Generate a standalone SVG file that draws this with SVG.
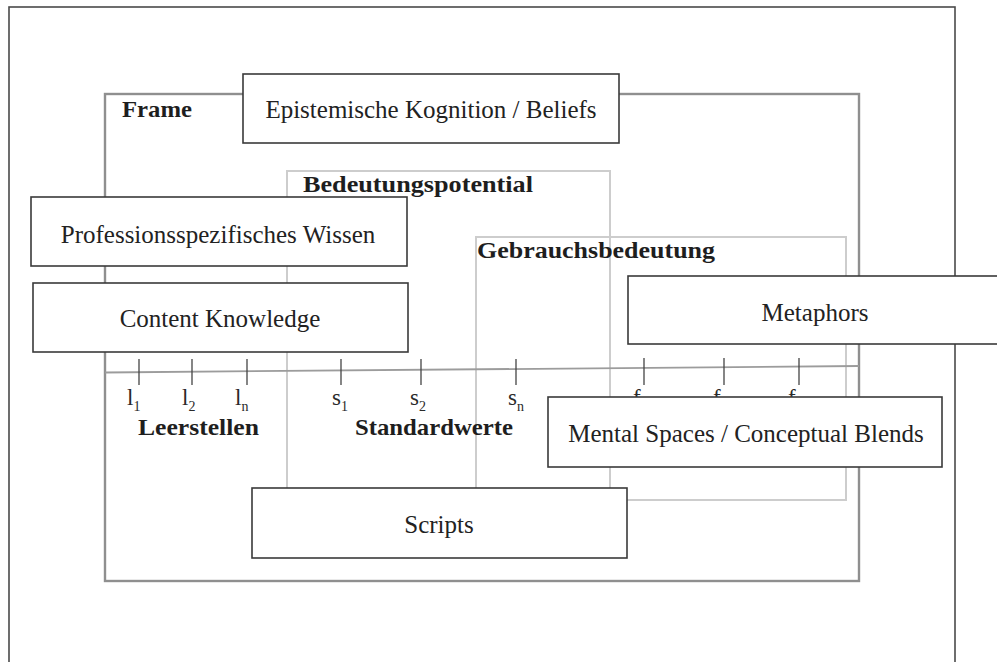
<svg xmlns="http://www.w3.org/2000/svg" width="997" height="662" viewBox="0 0 997 662">
  <style>
    .outer { fill: none; stroke: #4a4a4a; stroke-width: 1.6; }
    .frame { fill: none; stroke: #8f8f8f; stroke-width: 2.4; }
    .light { fill: none; stroke: #cdcdcd; stroke-width: 2; }
    .axis { fill: none; stroke: #9c9c9c; stroke-width: 1.8; }
    .tick { stroke: #444; stroke-width: 1.3; }
    .box { fill: #fff; stroke: #3a3a3a; stroke-width: 1.6; }
    .title { font-family: "Liberation Serif", "Times New Roman", serif; font-weight: bold; font-size: 24px; fill: #1e1e1e; }
    .var { font-family: "Liberation Serif", "Times New Roman", serif; font-size: 23px; fill: #2a2a2a; }
    .sub { font-size: 14px; }
    .lbl { font-family: "Liberation Serif", "Times New Roman", serif; font-size: 25px; fill: #222; text-anchor: middle; }
  </style>

  <!-- page border (open at the bottom) -->
  <rect class="outer" x="9" y="7" width="946" height="700"/>

  <!-- frame with its nested regions -->
  <g id="frame">
    <rect class="frame" x="105" y="94" width="754" height="487"/>
    <text class="title" x="122" y="117" textLength="70" lengthAdjust="spacingAndGlyphs">Frame</text>
  </g>
  <g id="bedeutungspotential">
    <rect class="light" x="287" y="171" width="323" height="329"/>
    <text class="title" x="303" y="192" textLength="230" lengthAdjust="spacingAndGlyphs">Bedeutungspotential</text>
  </g>
  <g id="gebrauchsbedeutung">
    <rect class="light" x="476" y="237" width="370" height="263"/>
    <text class="title" x="477" y="258" textLength="238" lengthAdjust="spacingAndGlyphs">Gebrauchsbedeutung</text>
  </g>

  <!-- slot axis with ticks -->
  <g id="connectors">
    <line class="axis" x1="105" y1="372.5" x2="859" y2="366"/>
    <line class="tick" x1="139" y1="359" x2="139" y2="385"/>
    <line class="tick" x1="192" y1="359" x2="192" y2="385"/>
    <line class="tick" x1="247" y1="359" x2="247" y2="385"/>
    <line class="tick" x1="341" y1="359" x2="341" y2="385"/>
    <line class="tick" x1="421" y1="359" x2="421" y2="385"/>
    <line class="tick" x1="516" y1="359" x2="516" y2="385"/>
    <line class="tick" x1="644" y1="358" x2="644" y2="385"/>
    <line class="tick" x1="724" y1="358" x2="724" y2="385"/>
    <line class="tick" x1="799" y1="358" x2="799" y2="385"/>
  </g>

  <g id="slots">
    <text class="var" x="127" y="405">l<tspan class="sub" dy="6">1</tspan></text>
    <text class="var" x="182" y="405">l<tspan class="sub" dy="6">2</tspan></text>
    <text class="var" x="235" y="405">l<tspan class="sub" dy="6">n</tspan></text>
    <text class="title" x="138" y="435" textLength="121" lengthAdjust="spacingAndGlyphs">Leerstellen</text>
  </g>
  <g id="defaults">
    <text class="var" x="332" y="405">s<tspan class="sub" dy="6">1</tspan></text>
    <text class="var" x="410" y="405">s<tspan class="sub" dy="6">2</tspan></text>
    <text class="var" x="508" y="405">s<tspan class="sub" dy="6">n</tspan></text>
    <text class="title" x="355" y="435" textLength="158" lengthAdjust="spacingAndGlyphs">Standardwerte</text>
  </g>
  <g id="fillers">
    <text class="var" x="633" y="405">f<tspan class="sub" dy="6">1</tspan></text>
    <text class="var" x="713" y="405">f<tspan class="sub" dy="6">2</tspan></text>
    <text class="var" x="788" y="405">f<tspan class="sub" dy="6">n</tspan></text>
  </g>

  <!-- overlaid concept boxes -->
  <g id="epistemische-kognition">
    <rect class="box" x="243" y="74" width="376" height="69"/>
    <text class="lbl" x="431" y="118">Epistemische Kognition / Beliefs</text>
  </g>
  <g id="professionswissen">
    <rect class="box" x="31" y="197" width="376" height="69"/>
    <text class="lbl" x="218" y="243">Professionsspezifisches Wissen</text>
  </g>
  <g id="content-knowledge">
    <rect class="box" x="33" y="283" width="375" height="69"/>
    <text class="lbl" x="220" y="327">Content Knowledge</text>
  </g>
  <g id="metaphors">
    <rect class="box" x="628" y="276" width="374" height="68"/>
    <text class="lbl" x="815" y="321">Metaphors</text>
  </g>
  <g id="mental-spaces">
    <rect class="box" x="548" y="397" width="394" height="70"/>
    <text class="lbl" x="746" y="442">Mental Spaces / Conceptual Blends</text>
  </g>
  <g id="scripts">
    <rect class="box" x="252" y="488" width="375" height="70"/>
    <text class="lbl" x="439" y="533">Scripts</text>
  </g>
</svg>
